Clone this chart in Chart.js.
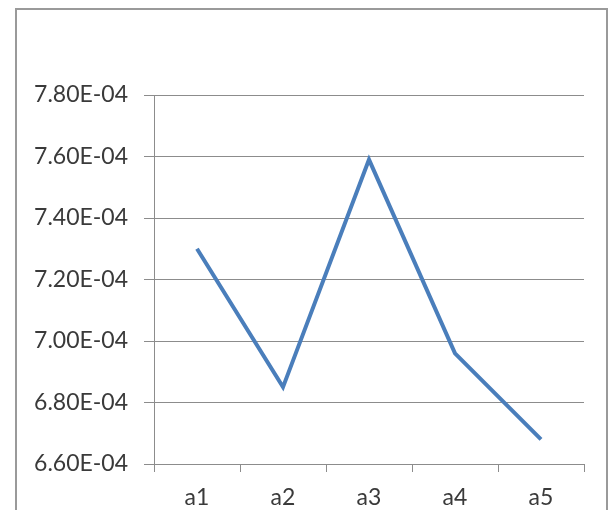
<!DOCTYPE html>
<html>
<head>
<meta charset="utf-8">
<script src="https://cdn.jsdelivr.net/npm/chart.js@4/dist/chart.umd.min.js"></script>
<style>
  html, body { margin: 0; padding: 0; background: #ffffff; }
  #wrap { position: relative; width: 610px; height: 510px; overflow: hidden; }
  canvas { display: block; }
</style>
</head>
<body>
<div id="wrap"><canvas id="chart" width="610" height="510"></canvas></div>
<script>
// Categories and measured values
const categories = ['a1', 'a2', 'a3', 'a4', 'a5'];
const values = [7.30e-4, 6.85e-4, 7.59e-4, 6.96e-4, 6.68e-4];

// Value axis ticks
const yTickValues = [6.60e-4, 6.80e-4, 7.00e-4, 7.20e-4, 7.40e-4, 7.60e-4, 7.80e-4];

// Format like 7.80E-04
function sci(v) {
  const parts = Number(v).toExponential(2).split('e');
  const exp = parseInt(parts[1], 10);
  const sign = exp < 0 ? '-' : '+';
  const digits = String(Math.abs(exp)).padStart(2, '0');
  return parts[0] + 'E' + sign + digits;
}

const fontFamily = 'Lato, "Open Sans", sans-serif';
const textColor = '#3a3a3a';
const gridColor = '#8c8c8c';

// Outer chart frame
const framePlugin = {
  id: 'frame',
  beforeDraw(chart) {
    const ctx = chart.ctx;
    ctx.save();
    ctx.fillStyle = '#ffffff';
    ctx.fillRect(0, 0, chart.width, chart.height);
    ctx.strokeStyle = '#9a9a9a';
    ctx.lineWidth = 2;
    ctx.strokeRect(16, 9, 591, 540);
    ctx.restore();
  }
};

new Chart(document.getElementById('chart'), {
  type: 'line',
  data: {
    labels: categories,
    datasets: [{
      data: values,
      borderColor: '#4a7ebb',
      borderWidth: 4,
      pointRadius: 0,
      pointHoverRadius: 0,
      tension: 0,
      fill: false,
      borderCapStyle: 'butt',
      borderJoinStyle: 'miter'
    }]
  },
  options: {
    responsive: false,
    animation: false,
    events: [],
    layout: { padding: { top: 95, right: 26, left: 0, bottom: 0 } },
    plugins: {
      legend: { display: false },
      tooltip: { enabled: false },
      title: { display: false }
    },
    scales: {
      x: {
        offset: true,
        grid: {
          offset: true,
          drawOnChartArea: false,
          drawTicks: true,
          tickLength: 8,
          color: gridColor,
          lineWidth: 1
        },
        border: { display: true, color: gridColor, width: 1 },
        ticks: {
          color: textColor,
          font: { family: fontFamily, size: 23 },
          padding: 12,
          maxRotation: 0,
          autoSkip: false
        },
        afterFit(scale) { scale.height = 46; }
      },
      y: {
        min: yTickValues[0],
        max: yTickValues[yTickValues.length - 1],
        afterBuildTicks(scale) {
          scale.ticks = yTickValues.map(v => ({ value: v }));
        },
        grid: {
          drawTicks: true,
          tickLength: 10,
          color: gridColor,
          lineWidth: 1
        },
        border: { display: true, color: gridColor, width: 1 },
        ticks: {
          color: textColor,
          font: { family: fontFamily, size: 23 },
          padding: 16,
          callback: (v) => sci(v)
        },
        afterFit(scale) { scale.width = 154; }
      }
    }
  },
  plugins: [framePlugin]
});
</script>
</body>
</html>
